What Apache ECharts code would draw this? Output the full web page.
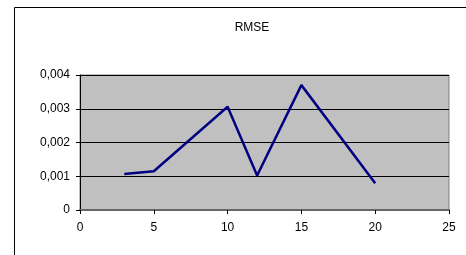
<!DOCTYPE html>
<html>
<head>
<meta charset="utf-8">
<script src="https://cdn.jsdelivr.net/npm/echarts@6/dist/echarts.min.js"></script>
<style>
  html, body { margin: 0; padding: 0; background: #fff; }
  #chart { width: 466px; height: 255px; }
</style>
</head>
<body>
<div id="chart"></div>
<script>
// values
const xValues = [3, 5, 10, 12, 15, 20]
const rmse = [0.00107, 0.00115, 0.00306, 0.00102, 0.0037, 0.00079]
const titleText = 'RMSE'

const chart = echarts.init(document.getElementById('chart'))

const fmtY = v => (v === 0 ? '0' : v.toFixed(3).replace('.', ','))

chart.setOption({
  animation: false,
  backgroundColor: '#fff',
  textStyle: { fontFamily: 'Liberation Sans, Arial, sans-serif' },
  title: {
    text: titleText,
    left: 247,
    top: 17,
    textAlign: 'center',
    textStyle: { fontSize: 12, fontWeight: 'normal', color: '#000', fontFamily: 'Liberation Sans' },
  },
  graphic: [{
    type: 'rect',
    shape: { x: 14.5, y: 7.5, width: 600, height: 400 },
    style: { fill: 'none', stroke: '#000', lineWidth: 1 },
    silent: true,
  }],
  grid: {
    left: 80, right: 17, top: 75, bottom: 45,
    show: true,
    backgroundColor: '#C0C0C0',
    borderColor: '#808080',
    borderWidth: 1,
  },
  xAxis: {
    type: 'value',
    min: 0, max: 25, interval: 5,
    axisLine: { show: true, onZero: false, lineStyle: { color: '#666', width: 2 } },
    axisTick: { show: true, length: 4, lineStyle: { color: '#000' } },
    axisLabel: { color: '#000', fontSize: 12, margin: 12, fontFamily: 'Liberation Sans' },
    splitLine: { show: false },
  },
  yAxis: {
    type: 'value',
    min: 0, max: 0.004, interval: 0.001,
    axisLine: { show: true, lineStyle: { color: '#000', width: 1 } },
    axisTick: { show: true, length: 4, lineStyle: { color: '#000' } },
    axisLabel: { color: '#000', fontSize: 12, margin: 10, formatter: fmtY, fontFamily: 'Liberation Sans' },
    splitLine: { show: true, lineStyle: { color: '#000', width: 1 } },
  },
  series: [{
    type: 'line',
    data: xValues.map((x, i) => [x, rmse[i]]),
    symbol: 'none',
    lineStyle: { color: '#000080', width: 2.5 },
  }],
})
</script>
</body>
</html>
